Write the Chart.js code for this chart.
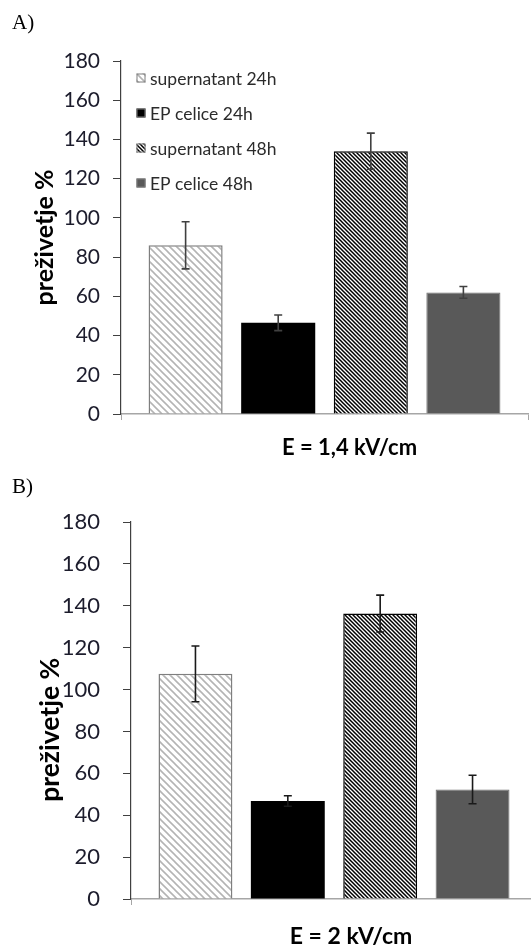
<!DOCTYPE html>
<html>
<head>
<meta charset="utf-8">
<script src="https://cdn.jsdelivr.net/npm/chart.js@4.4.0/dist/chart.umd.min.js"></script>
<style>
    html, body { margin: 0; padding: 0; background: #fff; overflow: hidden; width: 531px; height: 946px; }
    .panel { position: absolute; left: 0; }
    .tag { position: absolute; left: 12px; font-family: "Liberation Serif", serif; font-size: 21px; color: #000; }
</style>
</head>
<body>
<div class="panel" style="top:0; width:531px; height:470px;"><canvas id="chartA"></canvas></div>
<div class="panel" style="top:470px; width:541px; height:476px;"><canvas id="chartB"></canvas></div>
<div class="tag" style="top:10px;">A)</div>
<div class="tag" style="top:474px;">B)</div>

<script>
// ---------- DATA ----------
const seriesLabels = ["supernatant 24h", "EP celice 24h", "supernatant 48h", "EP celice 48h"];

const categoriesA = ["E = 1,4 kV/cm"];
const valuesA = [86, 46.5, 134, 62];
const errorsA = [12, 4, 9.2, 3];

const categoriesB = ["E = 2 kV/cm"];
const valuesB = [107.5, 46.8, 136.3, 52.3];
const errorsB = [13.3, 2.5, 8.8, 6.8];

const yMin = 0, yMax = 180, yStep = 20;
const yTitle = "preživetje %";

// ---------- PATTERNS ----------
function hatch(size, color, width) {
    const c = document.createElement("canvas");
    c.width = size; c.height = size;
    const g = c.getContext("2d");
    g.fillStyle = "#fff";
    g.fillRect(0, 0, size, size);
    g.strokeStyle = color;
    g.lineWidth = width;
    g.beginPath();
    g.moveTo(0, 0); g.lineTo(size, size);
    g.moveTo(-2, size - 2); g.lineTo(2, size + 2);
    g.moveTo(size - 2, -2); g.lineTo(size + 2, 2);
    g.stroke();
    return g.createPattern(c, "repeat");
}

const lightHatch = hatch(7, "#b4b4b4", 1.6);
const denseHatch = hatch(4, "#000", 1.5);

const fills = [lightHatch, "#000000", denseHatch, "#595959"];
const borders = ["#7f7f7f", "#000000", "#000000", "#6e6e6e"];
const borderWidths = [1.5, 0, 1.5, 1];

// ---------- PLUGINS ----------
const errorBars = {
    id: "errorBars",
    afterDatasetsDraw(chart, args, opts) {
        const ctx = chart.ctx;
        const y = chart.scales.y;
        ctx.save();
        ctx.strokeStyle = opts.color;
        ctx.lineWidth = opts.width;
        chart.data.datasets.forEach((ds, i) => {
            const bar = chart.getDatasetMeta(i).data[0];
            const v = ds.data[0], e = ds.errors[0];
            const top = y.getPixelForValue(v + e);
            const bot = y.getPixelForValue(v - e);
            ctx.beginPath();
            ctx.moveTo(bar.x, top); ctx.lineTo(bar.x, bot);
            ctx.moveTo(bar.x - opts.cap, top); ctx.lineTo(bar.x + opts.cap, top);
            ctx.moveTo(bar.x - opts.cap, bot); ctx.lineTo(bar.x + opts.cap, bot);
            ctx.stroke();
        });
        ctx.restore();
    }
};

const boxLegend = {
    id: "boxLegend",
    afterDraw(chart, args, o) {
        const ctx = chart.ctx;
        ctx.save();
        ctx.font = o.font;
        ctx.textBaseline = "middle";
        chart.data.datasets.forEach((ds, i) => {
            const cy = o.y + i * o.dy;
            ctx.fillStyle = ds.backgroundColor;
            ctx.fillRect(o.x, cy - o.box / 2, o.box, o.box);
            ctx.strokeStyle = "#7f7f7f";
            ctx.lineWidth = 1;
            ctx.strokeRect(o.x + 0.5, cy - o.box / 2 + 0.5, o.box - 1, o.box - 1);
            ctx.fillStyle = o.color;
            ctx.fillText(ds.label, o.textX, cy + 1);
        });
        ctx.restore();
    }
};

// ---------- CHARTS ----------
function makeChart(id, cats, values, errors, L) {
    const datasets = seriesLabels.map((lab, i) => ({
        label: lab,
        data: [values[i]],
        errors: [errors[i]],
        backgroundColor: fills[i],
        borderColor: borders[i],
        borderWidth: borderWidths[i]
    }));

    return new Chart(document.getElementById(id), {
        type: "bar",
        data: { labels: cats, datasets: datasets },
        options: {
            responsive: true,
            maintainAspectRatio: false,
            animation: false,
            layout: { padding: { top: L.top, right: L.right, left: 0, bottom: 0 } },
            datasets: { bar: { categoryPercentage: 0.91, barPercentage: 0.8 } },
            plugins: {
                legend: { display: false },
                tooltip: { enabled: false },
                errorBars: { color: L.errColor, width: 1.6, cap: 4 },
                boxLegend: {
                    x: L.legX, y: L.legY, dy: L.legDy, box: 9, textX: L.legTextX,
                    font: L.legFont + "px Lato", color: "#2b2b2b"
                }
            },
            scales: {
                x: {
                    grid: { drawOnChartArea: false, tickLength: 6, color: "#a6a6a6", offset: true },
                    border: { color: "#a6a6a6", width: 1.5 },
                    ticks: {
                        font: { family: "Lato", size: L.xFont, weight: "bold" },
                        color: "#000",
                        padding: L.xPad,
                        labelOffset: L.xOffset
                    },
                    afterFit: s => { s.height = L.xHeight; }
                },
                y: {
                    min: yMin,
                    max: yMax,
                    ticks: {
                        stepSize: yStep,
                        font: { family: "Lato", size: L.yFont },
                        color: "#1c1c2c",
                        padding: L.yPad
                    },
                    grid: { drawOnChartArea: false, tickLength: 8, color: "#404040" },
                    border: { color: "#404040", width: 1.2 },
                    title: {
                        display: true,
                        text: yTitle + L.titleTail,
                        font: { family: "Lato", size: L.titleFont, weight: "bold" },
                        color: "#000",
                        padding: { top: L.titlePad, bottom: 0 }
                    },
                    afterFit: s => { s.width = L.yWidth; }
                }
            }
        },
        plugins: [errorBars, boxLegend]
    });
}

makeChart("chartA", categoriesA, valuesA, errorsA, {
    top: 61, right: 3, xHeight: 56, yWidth: 121,
    xFont: 22, xPad: 15, xOffset: 25,
    yFont: 21, yPad: 13,
    titleFont: 25, titlePad: 30, titleTail: "",
    legX: 136.5, legY: 78, legDy: 35, legTextX: 150, legFont: 17.5,
    errColor: "#404040"
});

makeChart("chartB", categoriesB, valuesB, errorsB, {
    top: 52, right: 4, xHeight: 47, yWidth: 131,
    xFont: 23, xPad: 18, xOffset: 17,
    yFont: 22, yPad: 23,
    titleFont: 26.5, titlePad: 35, titleTail: "\u00a0\u00a0\u00a0\u00a0\u00a0\u00a0",
    legX: 142, legY: 522.5, legDy: 38, legTextX: 156, legFont: 18.7,
    errColor: "#1a1a1a"
});
</script>
</body>
</html>
